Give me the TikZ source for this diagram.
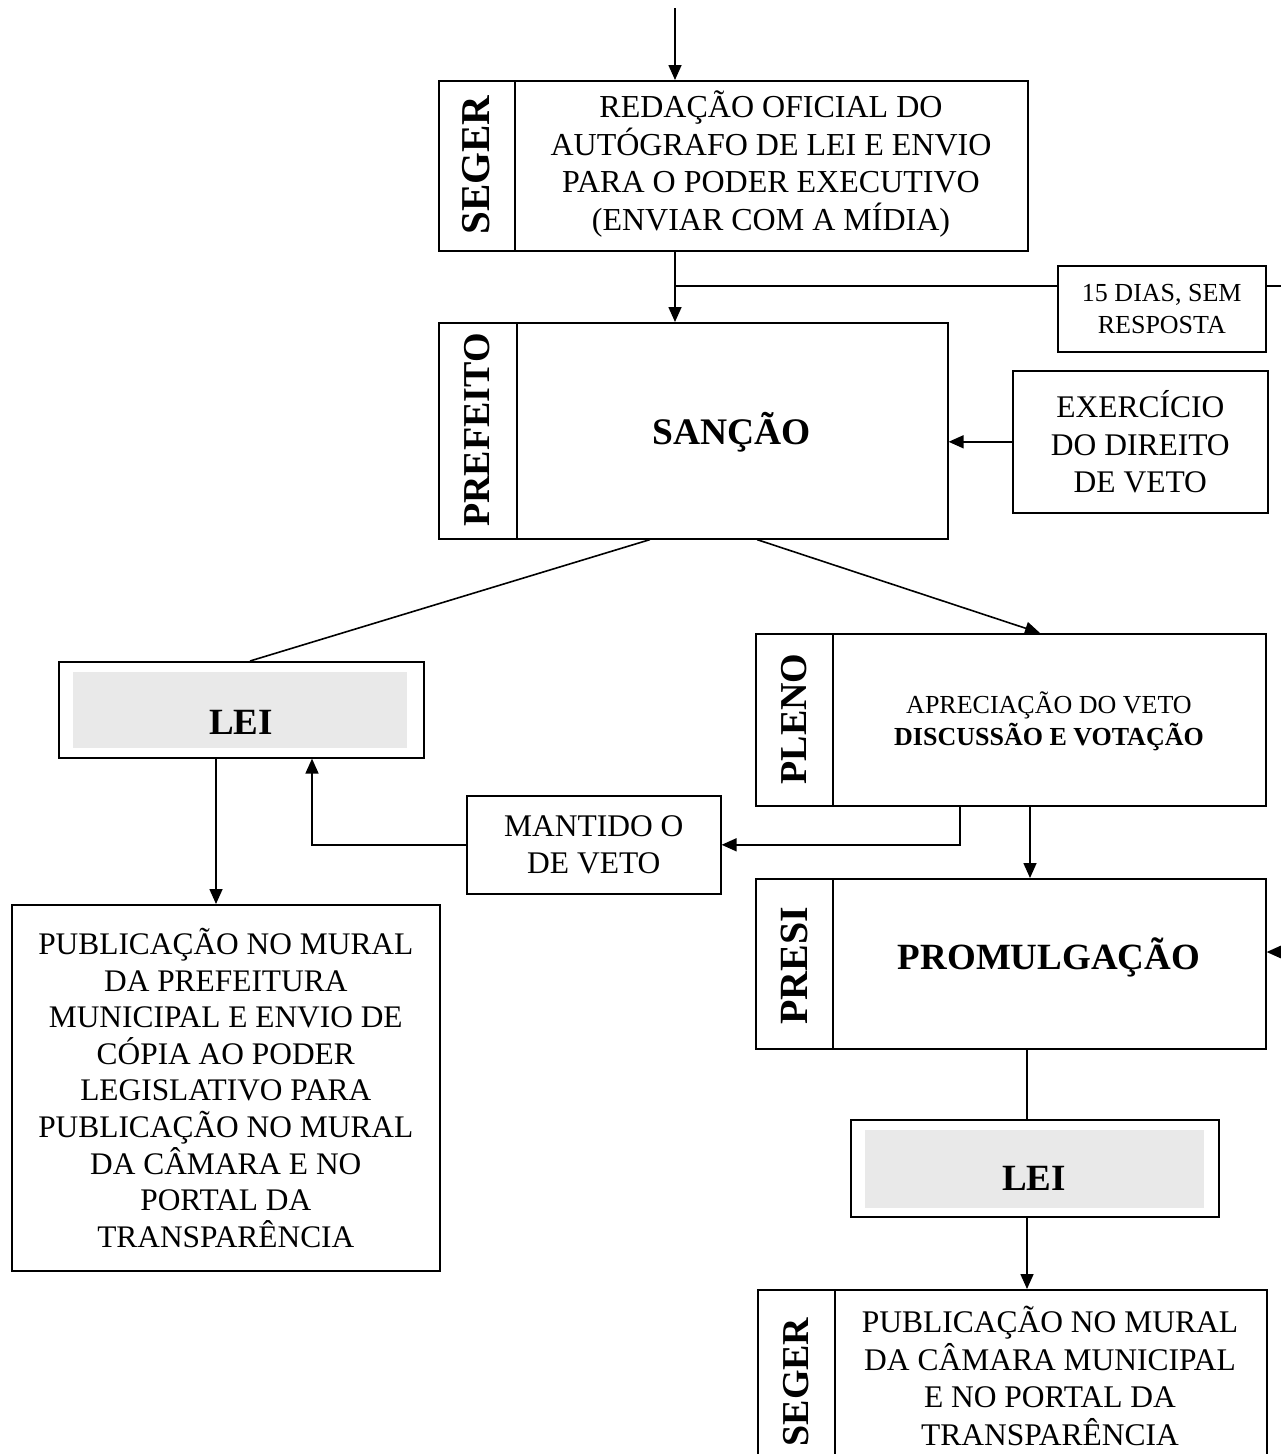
\documentclass[tikz,border=0pt]{standalone}
\usepackage{fontspec}
\setmainfont{Liberation Serif}
\usetikzlibrary{arrows.meta}
\begin{document}
\begin{tikzpicture}[x=1pt,y=-1pt,
  box/.style={draw, line width=1.6pt, anchor=north west, inner sep=0pt},
  ln/.style={line width=1.6pt},
  arr/.style={line width=1.6pt, -{Triangle[length=15pt,width=13pt]}},
  txt/.style={align=center, inner sep=0pt, font=\fontsize{32}{37.5}\selectfont},
  big/.style={inner sep=0pt, anchor=base, font=\fontsize{37}{40}\selectfont\bfseries},
  vlab/.style={rotate=90, inner sep=0pt, font=\fontsize{38}{40}\selectfont\bfseries},
  leifill/.style={fill=gray!17}]
\useasboundingbox (0,0) rectangle (1281,1454);
\clip (0,0) rectangle (1281,1454);

% ---- SEGER top box
\node[box, minimum width=589pt, minimum height=170pt] (seg1) at (438,80) {};
\draw[ln] ([xshift=77pt]seg1.north west) -- ([xshift=77pt]seg1.south west);
\node[vlab, font=\fontsize{41}{44}\selectfont\bfseries] (seg1l) at (476.5,165) {SEGER};
\node[txt] (seg1t) at (771,164) {REDAÇÃO OFICIAL DO\\AUTÓGRAFO DE LEI E ENVIO\\PARA O PODER EXECUTIVO\\(ENVIAR COM A MÍDIA)};
\coordinate (top) at (675,8);
\draw[arr] (top) -- (top |- seg1.north);

% ---- PREFEITO box
\node[box, minimum width=509pt, minimum height=216pt] (pref) at (438,322) {};
\draw[ln] ([xshift=79pt]pref.north west) -- ([xshift=79pt]pref.south west);
\node[vlab] (prefl) at (477.5,430) {PREFEITO};
\node[big, font=\fontsize{37.5}{40}\selectfont\bfseries] (preft) at (732,444) {SANÇÃO};
\draw[arr] (top |- seg1.south) -- (top |- pref.north);

% ---- 15 DIAS box
\node[box, minimum width=208pt, minimum height=86pt, align=center,
      font=\fontsize{26}{32}\selectfont] (dias) at (1057,265) {15 DIAS, SEM\\RESPOSTA};
\coordinate (j1) at ([yshift=-21pt]dias.north west);
\coordinate (j2) at ([yshift=-21pt]dias.north east);
\coordinate (re1) at (1281,286);
\draw[ln] (top |- j1) -- (j1);
\draw[ln] (j2) -- (re1);

% ---- EXERCICIO box
\node[box, minimum width=255pt, minimum height=142pt, align=center,
      font=\fontsize{31.5}{37.5}\selectfont] (exer) at (1012,370) {EXERCÍCIO\\DO DIREITO\\DE VETO};
\draw[arr] (exer.west) -- (exer.west -| pref.east);

% ---- LEI (left)
\node[box, minimum width=365pt, minimum height=96pt] (lei1) at (58,661) {};
\fill[leifill] ([shift={(15,11)}]lei1.north west) rectangle ([shift={(-18,-11)}]lei1.south east);
\node[big] (lei1t) at (241,734) {LEI};
\draw[ln] ([xshift=212pt]pref.south west) -- ([xshift=192pt]lei1.north west);

% ---- PLENO box
\node[box, minimum width=510pt, minimum height=172pt] (plen) at (755,633) {};
\draw[ln] ([xshift=78pt]plen.north west) -- ([xshift=78pt]plen.south west);
\node[vlab] (plenl) at (794,719) {PLENO};
\node[txt, font=\fontsize{26}{32}\selectfont] (plent) at (1049,721) {APRECIAÇÃO DO VETO\\\textbf{DISCUSSÃO E VOTAÇÃO}};
\draw[arr] ([xshift=319pt]pref.south west) -- ([xshift=285pt]plen.north west);

% ---- MANTIDO box
\node[box, minimum width=254pt, minimum height=98pt, align=center,
      font=\fontsize{31.5}{37}\selectfont] (mant) at (466,795) {MANTIDO O\\DE VETO};
\draw[arr] ([xshift=205pt]plen.south west) |- (mant.east);
\draw[arr] (mant.west) -| ([xshift=254pt]lei1.south west);

% ---- PUBLICACAO (left)
\node[box, minimum width=428pt, minimum height=366pt, align=center,
      font=\fontsize{31.4}{36.6}\selectfont] (pub1) at (11,904) {PUBLICAÇÃO NO MURAL\\DA PREFEITURA\\MUNICIPAL E ENVIO DE\\CÓPIA AO PODER\\LEGISLATIVO PARA\\PUBLICAÇÃO NO MURAL\\DA CÂMARA E NO\\PORTAL DA\\TRANSPARÊNCIA};
\coordinate (l1b) at ([xshift=158pt]lei1.south west);
\draw[arr] (l1b) -- (l1b |- pub1.north);

% ---- PRESI box
\node[box, minimum width=510pt, minimum height=170pt] (presi) at (755,878) {};
\draw[ln] ([xshift=78pt]presi.north west) -- ([xshift=78pt]presi.south west);
\node[vlab, font=\fontsize{40}{44}\selectfont\bfseries] (presil) at (794,966) {PRESI};
\node[big] (presit) at (1049,969) {PROMULGAÇÃO};
\draw[arr] ([xshift=275pt]plen.south west) -- ([xshift=275pt]presi.north west);
\coordinate (re2) at (1281,952);
\draw[arr] (re2) -- (re2 -| presi.east);

% ---- LEI (right)
\node[box, minimum width=368pt, minimum height=97pt] (lei2) at (850,1119) {};
\fill[leifill] ([shift={(15,11)}]lei2.north west) rectangle ([shift={(-16,-10)}]lei2.south east);
\node[big] (lei2t) at (1034,1190) {LEI};
\draw[ln] ([xshift=272pt]presi.south west) -- ([xshift=177pt]lei2.north west);

% ---- SEGER bottom box
\node[box, minimum width=509pt, minimum height=200pt] (seg2) at (757,1289) {};
\draw[ln] ([xshift=78pt]seg2.north west) -- ([xshift=78pt]seg2.south west);
\node[vlab] (seg2l) at (796,1382) {SEGER};
\node[txt, font=\fontsize{31.5}{37.5}\selectfont] (seg2t) at (1050,1376) {PUBLICAÇÃO NO MURAL\\DA CÂMARA MUNICIPAL\\E NO PORTAL DA\\TRANSPARÊNCIA};
\coordinate (l2b) at ([xshift=177pt]lei2.south west);
\draw[arr] (l2b) -- (l2b |- seg2.north);
\end{tikzpicture}
\end{document}
